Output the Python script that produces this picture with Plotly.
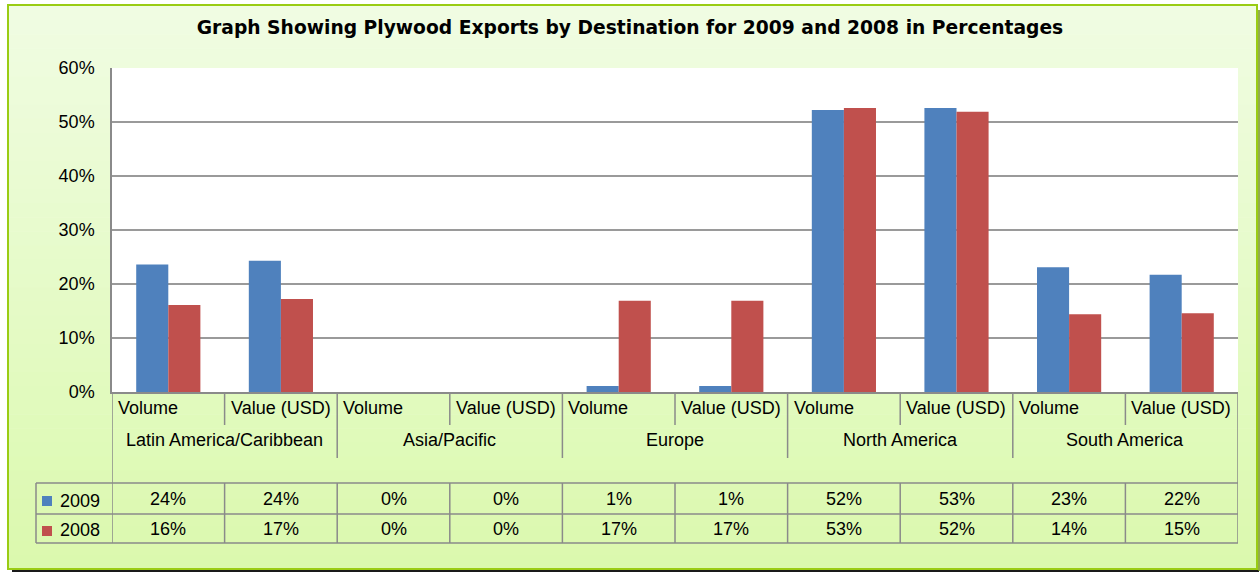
import plotly.graph_objects as go

# ---- data -------------------------------------------------------------
regions = ["Latin America/Caribbean", "Asia/Pacific", "Europe",
           "North America", "South America"]
measures = ["Volume", "Value (USD)"]
series_names = ["2009", "2008"]
values_2009 = [23.6, 24.3, 0, 0, 1.1, 1.1, 52.2, 52.6, 23.1, 21.7]
values_2008 = [16.1, 17.2, 0, 0, 16.9, 16.9, 52.6, 51.9, 14.4, 14.6]
y_ticks = [0, 10, 20, 30, 40, 50, 60]

BLUE = "#4F81BD"
RED = "#C0504D"
GRID = "#9a9a9a"
FONT = "Liberation Sans, Arial, sans-serif"

n = len(regions) * len(measures)
xs = list(range(n))

# plot area in pixels (used to convert layout positions to paper coords)
PL, PR, PT, PB = 112, 1238, 68, 392
W, H = PR - PL, PB - PT


def px(x):
    return (x - PL) / W


def py(y):
    return (PB - y) / H


fig = go.Figure()
fig.add_trace(go.Bar(x=xs, y=values_2009, name=series_names[0],
                     marker=dict(color=BLUE, line=dict(width=0))))
fig.add_trace(go.Bar(x=xs, y=values_2008, name=series_names[1],
                     marker=dict(color=RED, line=dict(width=0))))

shapes = []
# background gradient (light green, darker towards bottom)
top, bot = (240, 252, 226), (219, 249, 174)
y_top, y_bot = 6, 569
bands = 40
for k in range(bands):
    t = k / (bands - 1)
    c = tuple(round(top[j] + (bot[j] - top[j]) * t) for j in range(3))
    ya = y_top + (y_bot - y_top) * k / bands
    yb = y_top + (y_bot - y_top) * (k + 1) / bands + 0.6
    shapes.append(dict(type="rect", xref="paper", yref="paper", layer="below",
                       x0=px(9), x1=px(1256), y0=py(ya), y1=py(yb),
                       fillcolor="rgb(%d,%d,%d)" % c, line=dict(width=0)))
# white plot area
shapes.append(dict(type="rect", xref="paper", yref="paper", layer="below",
                   x0=0, x1=1, y0=0, y1=1, fillcolor="white",
                   line=dict(width=0)))
# outer border + shadow
shapes.append(dict(type="rect", xref="paper", yref="paper", layer="below",
                   x0=px(8), x1=px(1257), y0=py(569), y1=py(5),
                   line=dict(color="#9ACC14", width=2)))
shapes.append(dict(type="line", xref="paper", yref="paper", layer="below",
                   x0=px(12), x1=px(1259), y0=py(571), y1=py(571),
                   line=dict(color="#1a1a1a", width=2)))
shapes.append(dict(type="line", xref="paper", yref="paper", layer="below",
                   x0=px(1259), x1=px(1259), y0=py(571), y1=py(10),
                   line=dict(color="#6E8F10", width=1.5)))

line = dict(color="#8a8a8a", width=1.5)
# category header separators
for i in range(n - 1):
    b = i + 0.5
    bottom = 458 if i % 2 == 1 else 425
    shapes.append(dict(type="line", xref="x", yref="paper", x0=b, x1=b,
                       y0=py(PB), y1=py(bottom), line=line))
# left / right edges down through the table
for b in (-0.5, n - 0.5):
    shapes.append(dict(type="line", xref="x", yref="paper", x0=b, x1=b,
                       y0=py(PB), y1=py(543), line=line))
# data table grid
for yy in (483, 514, 543):
    shapes.append(dict(type="line", xref="paper", yref="paper",
                       x0=px(36), x1=1, y0=py(yy), y1=py(yy), line=line))
shapes.append(dict(type="line", xref="paper", yref="paper", x0=px(36),
                   x1=px(36), y0=py(483), y1=py(543), line=line))
for i in range(n - 1):
    b = i + 0.5
    shapes.append(dict(type="line", xref="x", yref="paper", x0=b, x1=b,
                       y0=py(483), y1=py(543), line=line))
# legend keys
for color, (ya, yb) in zip([BLUE, RED], [(496, 506), (526, 536)]):
    shapes.append(dict(type="rect", xref="paper", yref="paper",
                       x0=px(42), x1=px(52), y0=py(yb), y1=py(ya),
                       fillcolor=color, line=dict(width=0)))

ann = []
tf = dict(family=FONT, size=18, color="black")
for i in xs:
    ann.append(dict(x=i - 0.5, y=py(408), xref="x", yref="paper",
                    text=measures[i % 2], showarrow=False, xanchor="left",
                    xshift=4, yanchor="middle", font=tf))
for k, r in enumerate(regions):
    ann.append(dict(x=2 * k + 0.5, y=py(440), xref="x", yref="paper",
                    text=r, showarrow=False, xanchor="center",
                    yanchor="middle", font=tf))
for vals, yy in ((values_2009, 499), (values_2008, 529)):
    for i, v in enumerate(vals):
        ann.append(dict(x=i, y=py(yy), xref="x", yref="paper",
                        text="%d%%" % round(v), showarrow=False,
                        xanchor="center", yanchor="middle", font=tf))
for name, yy in zip(series_names, (501, 530)):
    ann.append(dict(x=px(58), y=py(yy), xref="paper", yref="paper",
                    text=name, showarrow=False, xanchor="left",
                    yanchor="middle", font=tf))

fig.update_layout(
    width=1260, height=572,
    margin=dict(l=PL, r=1260 - PR, t=PT, b=572 - PB),
    paper_bgcolor="white", plot_bgcolor="white",
    barmode="group", bargap=0.43, bargroupgap=0,
    showlegend=False,
    title=dict(text="<b>Graph Showing Plywood Exports by Destination for 2009 and 2008 in Percentages</b>",
               x=0.5, xanchor="center", y=1 - 27 / 572, yanchor="middle",
               font=dict(family="DejaVu Sans, sans-serif", size=18.7, color="black")),
    xaxis=dict(range=[-0.5, n - 0.5], showticklabels=False, showgrid=False,
               zeroline=False, showline=True, linecolor="#8a8a8a", linewidth=1.5,
               fixedrange=True),
    yaxis=dict(range=[0, 60], tickmode="array", tickvals=y_ticks,
               ticktext=["%d%%" % v for v in y_ticks],
               showgrid=True, gridcolor=GRID, gridwidth=1.5, zeroline=False,
               showline=True, linecolor="#8a8a8a", linewidth=1.5,
               ticks="outside", ticklen=12, tickcolor="rgba(0,0,0,0)",
               tickfont=dict(family=FONT, size=18, color="black"),
               fixedrange=True),
    shapes=shapes, annotations=ann,
)

# page body has a default 8px margin; drop it so the figure sits at 0,0
fig.write_html("out.html", config={"displayModeBar": False},
               post_script="document.body.style.margin='0';")
